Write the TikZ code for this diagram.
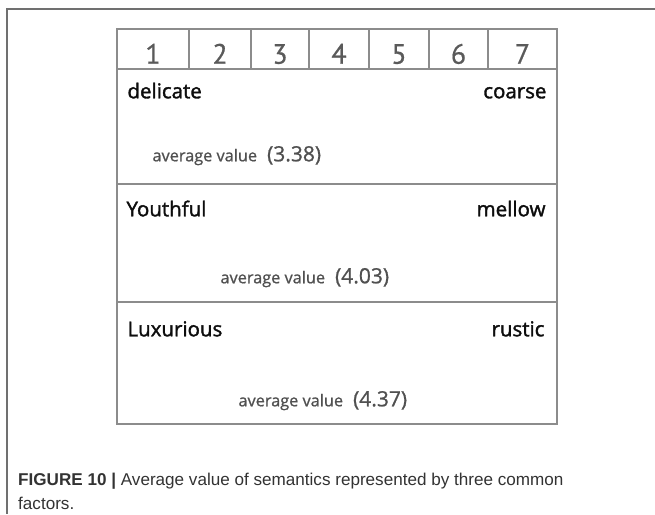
\documentclass[tikz,border=0pt]{standalone}
\usepackage{fontspec}
\usetikzlibrary{calc}
\setmainfont{Open Sans}
\newfontfamily\polefont[FakeBold=1.6]{Open Sans}
\newfontfamily\avgfont[FakeBold=0.9]{Open Sans}
\newfontfamily\digitfont[FakeBold=0.6]{PT Sans}
\newfontfamily\capfont{Liberation Sans}
\definecolor{framegray}{HTML}{707070}
\definecolor{rulegray}{HTML}{8C8C8C}
\definecolor{digitgray}{HTML}{5A5A5A}
\definecolor{avggray}{HTML}{505050}
\definecolor{captext}{HTML}{333333}
% the mean score is set a size larger than its label
\newcommand\meanval[1]{\hspace{10pt}{\fontsize{21}{23}\selectfont #1}}
\begin{document}
\begin{tikzpicture}[x=1pt,y=-1pt,
  cell/.style={draw=rulegray, line width=1.4pt, rectangle, inner sep=0pt, minimum height=40pt},
  band/.style={draw=rulegray, line width=1.4pt, rectangle, inner sep=0pt, minimum width=440pt},
  digit/.style={inner sep=0pt, anchor=base, text=digitgray, font=\digitfont\fontsize{28}{30}\selectfont},
  pole/.style={inner sep=0pt, text=black!95, font=\polefont\fontsize{20.5}{22}\selectfont},
  avg/.style={inner sep=0pt, anchor=base west, text=avggray, font=\avgfont\fontsize{16.3}{18}\selectfont},
  caption/.style={inner sep=0pt, anchor=base west, text=captext, font=\capfont\fontsize{17.1}{20}\selectfont}]
\useasboundingbox (0,0) rectangle (655,514);
\fill[white] (0,0) rectangle (655,514);

% outer figure frame (top and left edges)
\coordinate (ftr) at (655,9);
\coordinate (fc) at (7,9);
\coordinate (fbl) at (7,514);
\draw[framegray, line width=2pt] (ftr) -- (fc) -- (fbl);

% scale header: seven cells
\node[cell, minimum width=72pt] (c1) at (153,49) {};
\node[cell, minimum width=62pt] (c2) at (220,49) {};
\node[cell, minimum width=58pt] (c3) at (280,49) {};
\node[cell, minimum width=60pt] (c4) at (339,49) {};
\node[cell, minimum width=60pt] (c5) at (399,49) {};
\node[cell, minimum width=59pt] (c6) at (458.5,49) {};
\node[cell, minimum width=69pt] (c7) at (522.5,49) {};
\foreach \i in {1,...,7}{
  \node[digit] (d\i) at ($(c\i.south)+(0,-6)$) {\i};
}

% three semantic bands
\node[band, minimum height=115pt] (s1) at (337,126.5) {};
\node[band, minimum height=118pt] (s2) at (337,243) {};
\node[band, minimum height=122pt] (s3) at (337,363) {};

% band 1
\node[pole, anchor=base west] (l1) at ($(s1.north west)+(11,30)$) {delicate};
\node[pole, anchor=base east] (r1) at ($(s1.north east)+(-11,30)$) {coarse};
\node[avg] (a1) at ($(s1.north west)+(36,93)$) {average value\meanval{(3.38)}};

% band 2
\node[pole, anchor=base west] (l2) at ($(s2.north west)+(10,33)$) {Youthful};
\node[pole, anchor=base east] (r2) at ($(s2.north east)+(-12,33)$) {mellow};
\node[avg] (a2) at ($(s2.north west)+(104,100)$) {average value\meanval{(4.03)}};

% band 3
\node[pole, anchor=base west] (l3) at ($(s3.north west)+(11,35)$) {Luxurious};
\node[pole, anchor=base east] (r3) at ($(s3.north east)+(-13,35)$) {rustic};
\node[avg] (a3) at ($(s3.north west)+(122,105)$) {average value\meanval{(4.37)}};

% caption
\node[caption] (cap1) at (18,485) {\textbf{FIGURE 10 |} Average value of semantics represented by three common};
\node[caption] (cap2) at (18,509) {factors.};
\end{tikzpicture}
\end{document}
